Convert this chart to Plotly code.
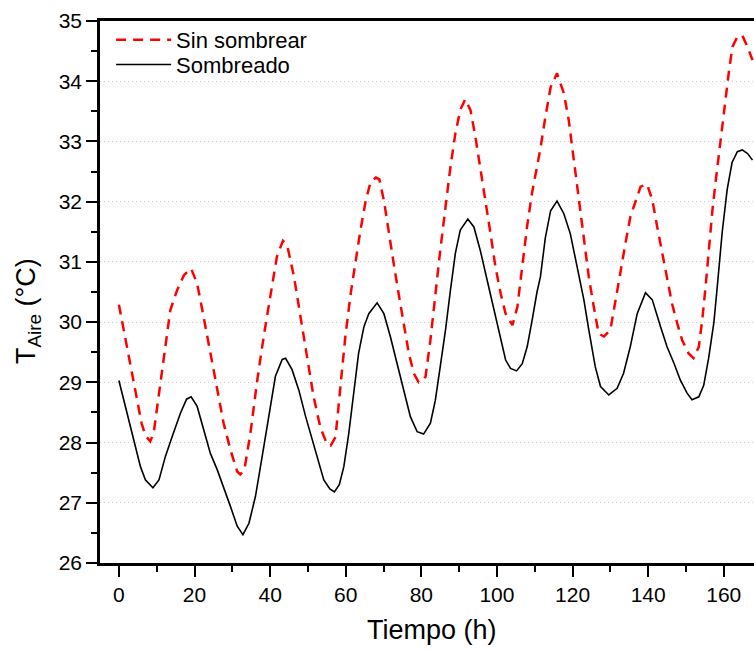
import plotly.graph_objects as go

# Sin sombrear (red dashed)
hours_sin = [0, 2, 4, 6, 7, 8.3, 9.2, 11, 12.3, 13.6, 15.4, 17.2, 19.1, 20.7, 22.4, 24.2, 26, 27.7,
             29.5, 31.3, 32.1, 33.2, 34.8, 36.5, 38.3, 40.1, 41.8, 43.4, 44.5, 46.3, 48, 49.8, 51.5,
             53.3, 55, 56, 57.3, 58.6, 59.9, 61.3, 62.6, 63.9, 65.3, 66.6, 68, 68.9, 70.1, 71.4, 72.7,
             74, 75.4, 76.7, 78, 79.3, 80.5, 81.1, 82.4, 83.7, 85, 86.4, 87.7, 89, 90.3, 91.6, 93,
             94.3, 95.6, 97, 98.3, 99.6, 101, 102.3, 104.1, 105.4, 106.7, 108, 109.3, 110.6, 111.5,
             112.8, 114.2, 115.9, 117.7, 119, 120.3, 121.7, 123, 124.3, 125.6, 126.9, 128.3, 130,
             131.4, 132.7, 134, 135.3, 136.7, 138, 139.7, 141.1, 142.4, 143.7, 145, 146.3, 147.7,
             149, 150.7, 152, 153.4, 154.3, 155.2, 156.1, 157, 157.9, 158.7, 159.6, 160.5, 161.4,
             162.3, 163.6, 164.9, 166.3, 167.6]
temp_sin = [30.29, 29.63, 28.98, 28.32, 28.12, 28.02, 28.16, 28.99, 29.65, 30.2, 30.53, 30.78, 30.89,
            30.64, 30.09, 29.48, 28.87, 28.32, 27.88, 27.52, 27.47, 27.55, 28.16, 28.99, 29.76, 30.42,
            31.09, 31.35, 31.28, 30.76, 30.09, 29.43, 28.76, 28.25, 27.98, 27.95, 28.09, 28.93, 29.76,
            30.47, 31.03, 31.53, 32.02, 32.33, 32.4, 32.37, 32.02, 31.53, 30.97, 30.47, 29.98, 29.48,
            29.15, 29.0, 29.05, 29.09, 29.7, 30.47, 31.19, 31.91, 32.58, 33.13, 33.52, 33.7, 33.52,
            33.08, 32.58, 32.02, 31.47, 30.92, 30.47, 30.14, 29.95, 30.25, 30.92, 31.6, 32.15, 32.6,
            32.88, 33.4, 33.9, 34.13, 33.8, 33.35, 32.69, 32.08, 31.42, 30.75, 30.26, 29.81, 29.76,
            29.87, 30.37, 30.86, 31.31, 31.75, 32.03, 32.25, 32.29, 32.03, 31.58, 31.14, 30.7, 30.31,
            29.98, 29.7, 29.48, 29.4, 29.59, 30.03, 30.59, 31.25, 31.86, 32.36, 32.8, 33.24, 33.74,
            34.18, 34.57, 34.74, 34.76, 34.57, 34.35]

# Sombreado (black solid)
hours_som = [0, 2.2, 3.9, 5.7, 7, 9, 10.6, 12.3, 14.1, 16.3, 17.9, 19.1, 20.7, 22.4, 24.2, 26, 27.7,
             29.5, 31.3, 32.8, 34.4, 36.1, 37.9, 39.6, 41.4, 43.2, 44.1, 45.8, 47.6, 49.4, 51.1, 52.9,
             54.2, 55.8, 57, 58.3, 59.5, 60.8, 62.1, 63.4, 64.8, 66.1, 68.3, 70.1, 71.8, 73.6, 75.3,
             77.1, 78.9, 80.6, 82.4, 83.7, 85, 86.4, 87.7, 89, 90.3, 92.3, 93.9, 95.6, 97.4, 99.2,
             101, 102.3, 103.6, 105.2, 106.7, 108, 109.3, 110.6, 111.5, 112.8, 114.2, 115.9, 117.7,
             119.4, 121.2, 123, 124.3, 126, 127.4, 129.6, 131.8, 133.5, 135.3, 137.1, 139.3, 141.1,
             143.3, 145, 146.8, 148.5, 150.3, 151.6, 153.4, 154.7, 156, 157.4, 158.3, 159.6, 160.9,
             162.2, 163.6, 164.9, 166.3, 167.6]
temp_som = [29.03, 28.49, 28.05, 27.6, 27.38, 27.25, 27.38, 27.77, 28.1, 28.49, 28.72, 28.76, 28.6,
            28.21, 27.82, 27.55, 27.27, 26.94, 26.61, 26.47, 26.66, 27.1, 27.77, 28.43, 29.1, 29.38,
            29.4, 29.21, 28.87, 28.43, 28.05, 27.66, 27.38, 27.23, 27.18, 27.3, 27.6, 28.15, 28.81,
            29.48, 29.92, 30.14, 30.32, 30.14, 29.76, 29.31, 28.87, 28.43, 28.18, 28.14, 28.32, 28.7,
            29.26, 29.87, 30.53, 31.14, 31.53, 31.71, 31.58, 31.19, 30.7, 30.2, 29.7, 29.37, 29.23,
            29.19, 29.31, 29.59, 30.03, 30.5, 30.75, 31.4, 31.85, 32.01, 31.8, 31.47, 30.92, 30.37,
            29.87, 29.26, 28.93, 28.79, 28.9, 29.15, 29.6, 30.14, 30.49, 30.37, 29.92, 29.59, 29.32,
            29.04, 28.82, 28.71, 28.76, 28.95, 29.4, 30.0, 30.6, 31.5, 32.2, 32.65, 32.83, 32.86,
            32.8, 32.69]

x_ticks = [0, 20, 40, 60, 80, 100, 120, 140, 160]
y_ticks = [26, 27, 28, 29, 30, 31, 32, 33, 34, 35]

FONT = "Liberation Sans, Arial, sans-serif"

fig = go.Figure()
fig.add_trace(go.Scatter(x=hours_sin, y=temp_sin, mode="lines", name="Sin sombrear",
                         legend="legend",
                         line=dict(color="#FF0000", width=2.5, dash="10px,7px")))
fig.add_trace(go.Scatter(x=hours_som, y=temp_som, mode="lines", name="Sombreado",
                         legend="legend2",
                         line=dict(color="#000000", width=1.6)))

leg_common = dict(xanchor="left", yanchor="top", bgcolor="rgba(0,0,0,0)", borderwidth=0,
                  font=dict(size=22, family=FONT, color="black"), itemwidth=55)

fig.update_layout(
    width=754, height=650,
    margin=dict(l=100, r=0, t=21, b=87),
    plot_bgcolor="white", paper_bgcolor="white",
    font=dict(family=FONT, color="black", size=21),
    showlegend=True,
    legend=dict(x=0.017, y=1.004, **leg_common),
    legend2=dict(x=0.017, y=0.958, **leg_common),
    xaxis=dict(range=[-5, 168], tickvals=x_ticks, showline=True, linecolor="black", linewidth=2.5,
               mirror=True, ticks="outside", ticklen=11, tickwidth=2, tickcolor="black",
               minor=dict(dtick=10, tick0=0, ticks="outside", ticklen=6, tickwidth=2, tickcolor="black"),
               showgrid=False, zeroline=False, tickfont=dict(size=21)),
    yaxis=dict(range=[26, 35], tickvals=y_ticks, showline=True, linecolor="black", linewidth=2.5,
               mirror=False, ticks="outside", ticklen=11, tickwidth=2, tickcolor="black",
               minor=dict(dtick=0.5, tick0=26, ticks="outside", ticklen=6, tickwidth=2, tickcolor="black"),
               showgrid=True, gridcolor="#c8c8c8", gridwidth=1, griddash="1px,3px",
               zeroline=False, tickfont=dict(size=21)),
    annotations=[
        dict(text="T<sub>Aire</sub> (°C)", textangle=-90, xref="paper", yref="paper",
             x=-0.110, y=0.465, xanchor="center", yanchor="middle", showarrow=False,
             font=dict(size=27, family=FONT)),
        dict(text="Tiempo (h)", xref="paper", yref="paper",
             x=0.508, y=-0.124, xanchor="center", yanchor="middle", showarrow=False,
             font=dict(size=27, family=FONT)),
    ],
)

fig.write_html("out.html")
